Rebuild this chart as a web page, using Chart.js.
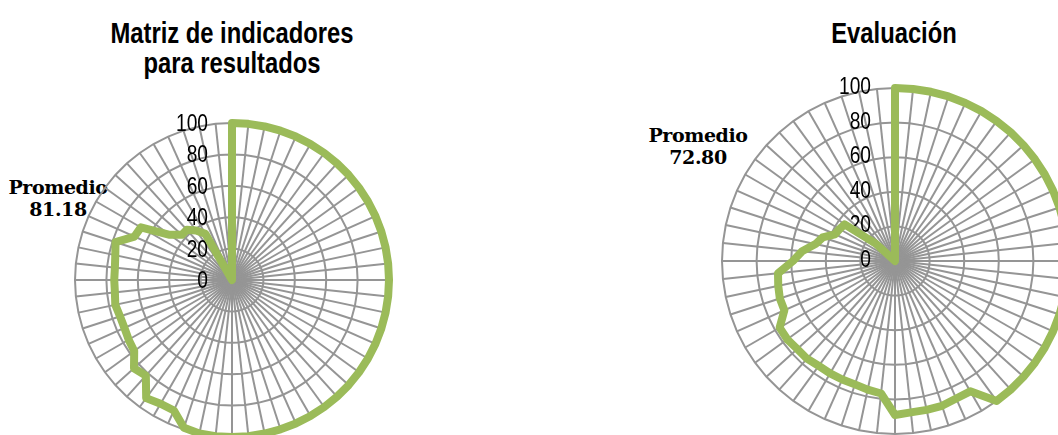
<!DOCTYPE html>
<html>
<head>
<meta charset="utf-8">
<script src="https://cdn.jsdelivr.net/npm/chart.js@4"></script>
<style>
  body { margin: 0; width: 1058px; height: 435px; overflow: hidden; background: #fff; position: relative; }
  canvas { position: absolute; }
  .ttl { position: absolute; width: 300px; text-align: center; color: #000; white-space: nowrap;
         font: bold 29px/30px "Liberation Sans", Arial, sans-serif;
         transform: scaleX(0.82); transform-origin: 150px 0; }
  .prom { position: absolute; width: 120px; text-align: center; color: #000; letter-spacing: -0.4px;
          font: bold 19px/22px "DejaVu Serif", serif; }
</style>
</head>
<body>
<div class="ttl" style="left:82px;top:18px">Matriz de indicadores<br>para resultados</div>
<div class="ttl" style="left:744px;top:18px">Evaluación</div>
<div class="prom" style="left:-2px;top:176px">Promedio<br>81.18</div>
<div class="prom" style="left:638px;top:124px">Promedio<br>72.80</div>
<canvas id="mirChart" width="354" height="354" style="left:55px;top:103px"></canvas>
<canvas id="evalChart" width="386" height="386" style="left:702px;top:68px"></canvas>
<script>
'use strict'

// radial axis ticks
var radialTicks = [0, 20, 40, 60, 80, 100];

// Matriz de indicadores para resultados (60 programas, clockwise from the top)
var mirValues = [
  100, 100, 100, 100, 100, 100, 100, 100, 100, 100,
  100, 100, 100, 100, 100, 100, 100, 100, 100, 100,
  100, 100, 100, 100, 100, 100, 100, 100, 100, 100,
  100, 100, 100, 99, 91, 91, 93, 82, 84, 77,
  76, 75, 75, 76, 75, 75, 75, 76, 78, 68,
  67, 49, 43, 43, 39, 34, 0, 0, 0, 0
];

// Evaluación (60 programas, clockwise from the top)
var evalValues = [
  100, 100, 100, 100, 100, 100, 100, 100, 100, 100,
  100, 100, 100, 100, 100, 100, 100, 100, 100, 100,
  100, 100, 100, 100, 100, 87, 87, 88, 88, 88,
  89, 77, 76, 75, 75, 75, 75, 76, 76, 77,
  77, 70, 70, 69, 68, 59, 54, 47, 44, 38,
  37, 36, 15, 0, 0, 0, 0, 0, 0, 0
];

var mirLabels = mirValues.map(function(v, i) { return 'Programa ' + (i + 1); });
var evalLabels = evalValues.map(function(v, i) { return 'Programa ' + (i + 1); });

var lineColor = '#9bbb59';
var gridColor = '#959595';

// tick numbers sit left of the vertical axis, as in the original
var sideTicks = {
  id: 'sideTicks',
  beforeDatasetsDraw: function(chart, args, opts) {
    var r = chart.scales.r;
    var ctx = chart.ctx;
    ctx.save();
    ctx.font = '24px "Liberation Sans", Arial, sans-serif';
    ctx.fillStyle = '#000';
    ctx.textAlign = 'right';
    ctx.textBaseline = 'alphabetic';
    r.ticks.forEach(function(t) {
      var y = r.yCenter - r.getDistanceFromCenterForValue(t.value);
      ctx.save();
      ctx.translate(r.xCenter - 24, y + opts.shift);
      ctx.scale(0.8, 1);
      ctx.fillText(String(t.value), 0, 0);
      ctx.restore();
    });
    ctx.restore();
  }
};

function radar(id, labels, values, shift) {
  return new Chart(document.getElementById(id), {
    type: 'radar',
    data: {
      labels: labels,
      datasets: [{
        data: values,
        borderColor: lineColor,
        borderWidth: 8,
        borderJoinStyle: 'round',
        borderCapStyle: 'round',
        pointRadius: 0,
        fill: false,
        tension: 0
      }]
    },
    options: {
      responsive: false,
      animation: false,
      layout: { padding: 20 },
      plugins: {
        legend: { display: false },
        tooltip: { enabled: false },
        sideTicks: { shift: shift }
      },
      scales: {
        r: {
          min: radialTicks[0],
          max: radialTicks[radialTicks.length - 1],
          ticks: { stepSize: radialTicks[1] - radialTicks[0], display: false },
          pointLabels: { display: false },
          grid: { color: gridColor, lineWidth: 2 },
          angleLines: { color: gridColor, lineWidth: 2 }
        }
      }
    },
    plugins: [sideTicks]
  });
}

radar('mirChart', mirLabels, mirValues, 8);
radar('evalChart', evalLabels, evalValues, 6);
</script>
</body>
</html>
